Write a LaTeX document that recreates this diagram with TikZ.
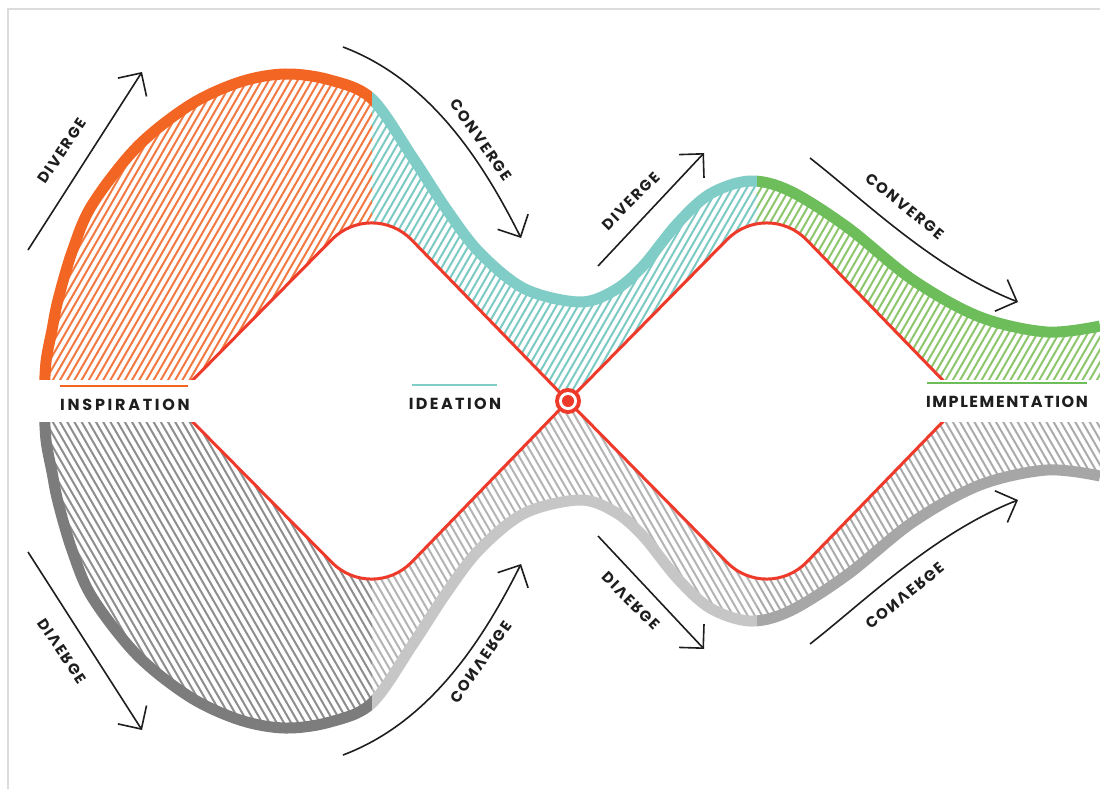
\documentclass[tikz,border=0pt]{standalone}
\usepackage{fontspec}
\usetikzlibrary{arrows.meta,calc}
\newfontfamily\tagfont[LetterSpace=12]{Poppins}
\newfontfamily\phasefont[LetterSpace=15]{Poppins}

\definecolor{flameorange}{HTML}{F26522}
\definecolor{flamehatch}{HTML}{F27A42}
\definecolor{tealline}{HTML}{80CCC6}
\definecolor{tealhatch}{HTML}{7CCAC4}
\definecolor{leafgreen}{HTML}{6DBE5A}
\definecolor{leafhatch}{HTML}{8DC66C}
\definecolor{redline}{HTML}{EE3A2A}
\definecolor{greyA}{HTML}{7C7C7C}
\definecolor{greyAh}{HTML}{8E8E8E}
\definecolor{greyB}{HTML}{C6C6C6}
\definecolor{greyBh}{HTML}{B4B4B4}
\definecolor{greyC}{HTML}{A6A6A6}
\definecolor{greyCh}{HTML}{ABABAB}
\definecolor{framegrey}{HTML}{DCDCDC}
\definecolor{inktext}{HTML}{1E1E1E}

\tikzset{
  hatchline/.style={line width=2pt},
  rim/.style={line width=11pt, line cap=butt},
  flow/.style={line width=1.6pt, draw=inktext, -{Straight Barb[length=17pt,width=34pt]}},
  flowtext/.style={font={\tagfont\bfseries\fontsize{15}{15}\selectfont}, text=inktext, inner sep=0pt, transform shape},
  phase/.style={font={\phasefont\bfseries\fontsize{16}{16}\selectfont}, text=inktext, inner sep=0pt},
  redpath/.style={draw=redline, line width=3pt, line join=round},
  phasebar/.style={line width=2.5pt},
}

% outer rim of one half
\newcommand\rimcurve{plot[smooth,tension=0.55] coordinates {(44,401) (46,362) (52,330) (58,300) (72,252) (92,205) (137,147) (190,105) (240,82) (285,74) (330,80) (372,99) (413,158) (447,210) (480,253) (525,289) (580,302) (615,290) (643,266) (677,224) (710,194) (750,181) (790,191) (847,227) (913,280) (980,317) (1047,332) (1100,326)}}

% one half of the double diamond: #1 name prefix, #2-#4 rim colours, #5-#7 hatch colours
\newcommand\halfview[7]{%
  \coordinate (#1L) at (172,401);
  \coordinate (#1T1) at (372,199);
  \coordinate (#1X) at (568,401);
  \coordinate (#1T2) at (767,199);
  \coordinate (#1R) at (963,401);
  \coordinate (#1a1) at ($(#1T1)!57pt!(#1L)$);
  \coordinate (#1b1) at ($(#1T1)!57pt!(#1X)$);
  \coordinate (#1a2) at ($(#1T2)!57pt!(#1X)$);
  \coordinate (#1b2) at ($(#1T2)!57pt!(#1R)$);
  % hatched band between rim and diamonds
  \begin{scope}
    \clip \rimcurve -- (1100,401) -- (#1R) -- (#1b2)
      .. controls ($(#1b2)!0.55!(#1T2)$) and ($(#1a2)!0.55!(#1T2)$) .. (#1a2) -- (#1X) -- (#1b1)
      .. controls ($(#1b1)!0.55!(#1T1)$) and ($(#1a1)!0.55!(#1T1)$) .. (#1a1) -- (#1L) -- cycle;
    \begin{scope}
      \clip (0,0) rectangle (372,402);
      \foreach \i in {0,...,200} \draw[hatchline,#5] ({-300+7.2*\i},430) -- ++(248,-430);
    \end{scope}
    \begin{scope}
      \clip (372,0) rectangle (757,402);
      \foreach \i in {0,...,200} \draw[hatchline,#6] ({-300+7.2*\i},430) -- ++(248,-430);
    \end{scope}
    \begin{scope}
      \clip (757,0) rectangle (1100,402);
      \foreach \i in {0,...,200} \draw[hatchline,#7] ({-300+7.2*\i},430) -- ++(248,-430);
    \end{scope}
  \end{scope}
  % coloured rim
  \begin{scope}\clip (0,-10) rectangle (372,401); \draw[rim,#2] \rimcurve; \end{scope}
  \begin{scope}\clip (372,-10) rectangle (757,401); \draw[rim,#3] \rimcurve; \end{scope}
  \begin{scope}\clip (757,-10) rectangle (1100,401); \draw[rim,#4] \rimcurve; \end{scope}
  % red diamonds
  \draw[redpath] (#1L) -- (#1a1) .. controls ($(#1a1)!0.55!(#1T1)$) and ($(#1b1)!0.55!(#1T1)$) .. (#1b1)
     -- (#1X) -- (#1a2) .. controls ($(#1a2)!0.55!(#1T2)$) and ($(#1b2)!0.55!(#1T2)$) .. (#1b2) -- (#1R);
  % diverge / converge arrows
  \coordinate (#1d1s) at (28,250); \coordinate (#1d1e) at (142,72);
  \draw[flow] (#1d1s) -- (#1d1e);
  \node[flowtext, rotate=56] (#1d1t) at (62,151) {DIVERGE};
  \coordinate (#1c1s) at (343,47); \coordinate (#1c1e) at (521,238);
  \draw[flow] (#1c1s) .. controls (428,79) and (481,158) .. (#1c1e);
  \node[flowtext, rotate=-55] (#1c1t) at (481,140) {CONVERGE};
  \coordinate (#1d2s) at (598,266); \coordinate (#1d2e) at (704,153);
  \draw[flow] (#1d2s) -- (#1d2e);
  \node[flowtext, rotate=45] (#1d2t) at (631,201) {DIVERGE};
  \coordinate (#1c2s) at (810,158); \coordinate (#1c2e) at (1018,302);
  \draw[flow] (#1c2s) .. controls (865,201) and (934,269) .. (#1c2e);
  \node[flowtext, rotate=-39] (#1c2t) at (905,206) {CONVERGE};
}

\begin{document}
\begin{tikzpicture}[x=1pt, y=-1pt]
  \useasboundingbox (0,0) rectangle (1100,789);
  \fill[white] (0,0) rectangle (1100,789);
  \draw[framegrey, line width=1.5pt] (8,789) -- (8,9) -- (1100,9);

  % upper half
  \halfview{u}{flameorange}{tealline}{leafgreen}{flamehatch}{tealhatch}{leafhatch}
  % lower half, mirrored about the centre line
  \begin{scope}[yshift=-802pt, yscale=-1]
    \halfview{l}{greyA}{greyB}{greyC}{greyAh}{greyBh}{greyCh}
  \end{scope}

  % label bands
  \fill[white] (25,380) rectangle (200,422);
  \fill[white] (915,380) rectangle (1100,422);

  \draw[phasebar, flameorange] (60,386) -- (188,386);
  \node[phase] (insp) at (125,405) {\addfontfeature{LetterSpace=17}INSPIRATION};
  \draw[phasebar, tealline] (412,385) -- (497,385);
  \node[phase] (idea) at (455,404) {IDEATION};
  \draw[phasebar, leafgreen] (927,383) -- (1087,383);
  \node[phase] (impl) at (1007,402) {\addfontfeature{LetterSpace=10}IMPLEMENTATION};

  % centre marker
  \fill[redline] (568,401) circle (13);
  \fill[white] (568,401) circle (9);
  \fill[redline] (568,401) circle (6);
\end{tikzpicture}
\end{document}
